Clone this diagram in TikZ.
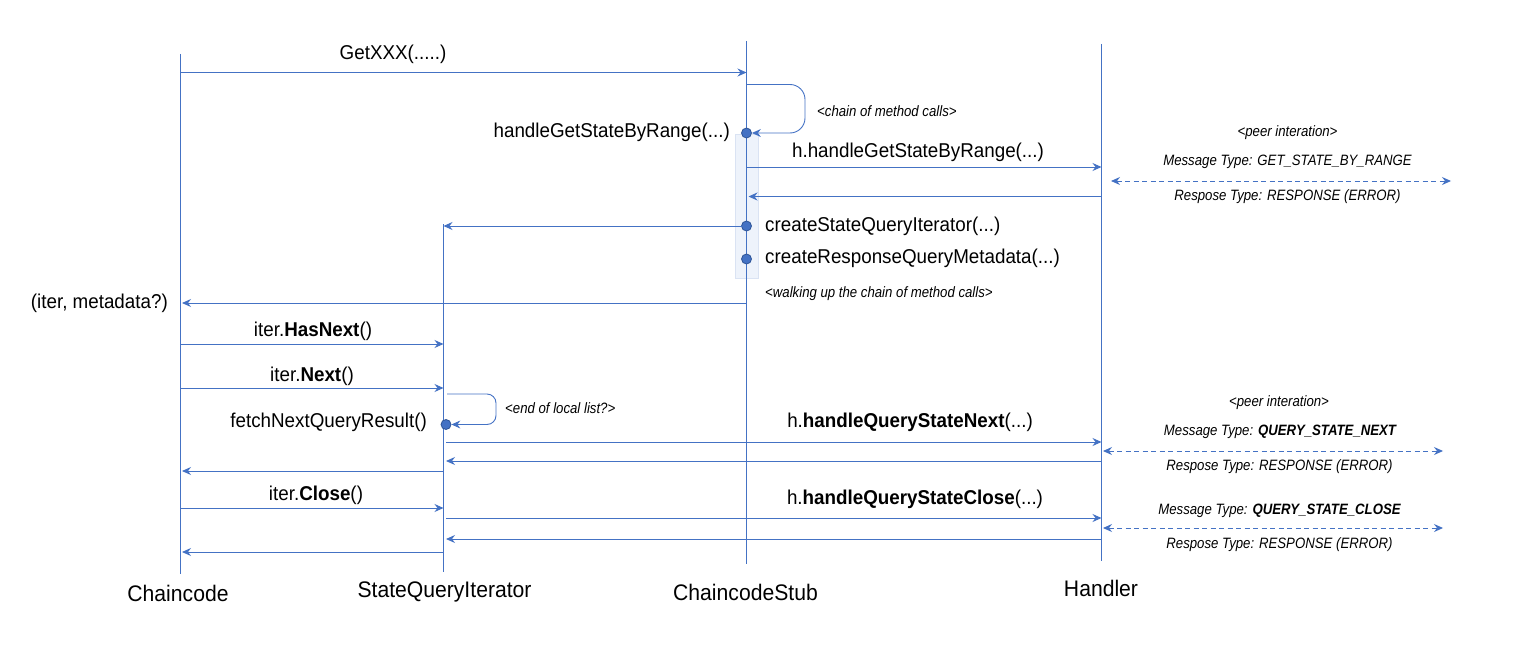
\documentclass[tikz,border=0pt]{standalone}
\usepackage{fontspec}
\setmainfont[FakeStretch=0.94]{Liberation Sans}
\newfontfamily\notefont[FakeStretch=0.88]{Liberation Sans}
\usetikzlibrary{arrows.meta}
\definecolor{lblue}{HTML}{4472C4}
\definecolor{dblue}{HTML}{2F5597}
\definecolor{actfill}{HTML}{EEF3FB}
\definecolor{actdraw}{HTML}{DAE3F3}
\tikzset{
  lifeline/.style={draw=lblue, line width=1.1pt},
  msg/.style={draw=lblue, line width=1pt, -{Stealth[length=9pt,width=8pt,inset=3pt]}},
  loopline/.style={draw=lblue, line width=0.9pt, -{Stealth[length=9pt,width=8pt,inset=3pt]}},
  peer/.style={draw=lblue, line width=1pt, dash pattern=on 5pt off 3.5pt,
    {Stealth[length=9pt,width=8pt,inset=3pt]}-{Stealth[length=9pt,width=8pt,inset=3pt]}},
  dot/.style={circle, fill=lblue, draw=dblue, line width=0.8pt, minimum size=10pt, inner sep=0pt},
  title/.style={inner sep=0pt, font=\fontsize{22.5}{27}\selectfont},
  lbl/.style={inner sep=0pt, font=\fontsize{20}{24}\selectfont},
  note/.style={inner sep=0pt, font=\notefont\itshape\fontsize{15}{18}\selectfont},
}
\begin{document}
\begin{tikzpicture}[x=1pt,y=-1pt]
\useasboundingbox (0,0) rectangle (1522,669);
% lifeline positions
\coordinate (CC) at (180.5,0);
\coordinate (IT) at (443.5,0);
\coordinate (ST) at (746.5,0);
\coordinate (HD) at (1101.5,0);
% activation box
\node[fill=actfill, draw=actdraw, line width=0.8pt, minimum width=23pt, minimum height=144pt, inner sep=0pt] (act) at (747,206) {};
% lifelines
\draw[lifeline] (CC |- 0,54) coordinate (cctop) -- (CC |- 0,574) coordinate (ccbot);
\draw[lifeline] (IT |- 0,224) coordinate (ittop) -- (IT |- 0,572) coordinate (itbot);
\draw[lifeline] (ST |- 0,41) coordinate (sttop) -- (ST |- 0,564) coordinate (stbot);
\draw[lifeline] (HD |- 0,44) coordinate (hdtop) -- (HD |- 0,561) coordinate (hdbot);
% titles
\node[title] (tcc) at (178,593) {Chaincode};
\node[title] (tit) at (444.5,592) {StateQueryIterator};
\node[title] (tst) at (745.5,592) {ChaincodeStub};
\node[title] (thd) at (1101,588) {Handler};
% GetXXX
\draw[msg] (CC |- 0,72.5) -- (ST |- 0,72.5);
\node[lbl] (lget) at (393,54) {GetXXX(.....)};
% self loop on stub
\node[dot] (d1) at (746.5,133) {};
\draw[loopline, rounded corners=15pt] (ST |- 0,84.5) -- (805,84.5) -- (805,133) -- (d1.east);
\node[note, anchor=west] (nchain) at (817,111) {<chain of method calls>};
\node[lbl, anchor=east] (lhgsr) at (730,132) {handleGetStateByRange(...)};
% stub <-> handler
\draw[msg] (ST |- 0,167) -- (HD |- 0,167);
\node[lbl] (lhh) at (918,152) {h.handleGetStateByRange(...)};
\draw[msg] (HD |- 0,196.5) -- (748.5,196.5);
% create iterator
\node[dot] (d2) at (746.5,226) {};
\draw[msg] (d2.center) -- (IT |- 0,226);
\node[lbl, anchor=west] (lcsqi) at (765,226) {createStateQueryIterator(...)};
\node[dot] (d3) at (746.5,259) {};
\node[lbl, anchor=west] (lcrqm) at (765,258) {createResponseQueryMetadata(...)};
\node[note, anchor=west] (nwalk) at (765,294) {<walking up the chain of method calls>};
% return to chaincode
\draw[msg] (ST |- 0,303) -- (182,303);
\node[lbl, anchor=east] (lret) at (168,303) {(iter, metadata?)};
% HasNext / Next
\draw[msg] (CC |- 0,344) -- (IT |- 0,344);
\node[lbl] (lhas) at (313,331) {iter.\textbf{HasNext}()};
\draw[msg] (CC |- 0,388) -- (IT |- 0,388);
\node[lbl] (lnext) at (312,376) {iter.\textbf{Next}()};
% self loop on iterator
\node[dot] (d4) at (446,424.5) {};
\draw[loopline, rounded corners=9pt] (447,394) -- (496,394) -- (496,424.5) -- (d4.east);
\node[note, anchor=west] (nend) at (505,408) {<end of local list?>};
\node[lbl, anchor=east] (lfetch) at (427,422) {fetchNextQueryResult()};
% next query
\draw[msg] (446,442) -- (HD |- 0,442);
\node[lbl] (lqsn) at (910,422) {h.\textbf{handleQueryStateNext}(...)};
\draw[msg] (HD |- 0,461) -- (446,461);
\draw[msg] (IT |- 0,471) -- (182,471);
% close
\draw[msg] (CC |- 0,508) -- (IT |- 0,508);
\node[lbl] (lclose) at (316,495) {iter.\textbf{Close}()};
\draw[msg] (446,518) -- (HD |- 0,518);
\node[lbl] (lqsc) at (915,499) {h.\textbf{handleQueryStateClose}(...)};
\draw[msg] (HD |- 0,539) -- (446,539);
\draw[msg] (IT |- 0,552) -- (182,552);
% peer interaction notes
\node[note] (np1) at (1287.5,133) {<peer interation>};
\node[note] (nm1) at (1287.5,162) {Message Type: GET\_STATE\_BY\_RANGE};
\coordinate (pa1) at (1111,181);
\coordinate (pb1) at (1451,181);
\draw[peer] (pa1) -- (pb1);
\node[note] (nr1) at (1287.5,197) {Respose Type: RESPONSE (ERROR)};
\node[note] (np2) at (1279,403) {<peer interation>};
\node[note] (nm2) at (1280,432) {Message Type: \textbf{QUERY\_STATE\_NEXT}};
\coordinate (pa2) at (1103,451);
\coordinate (pb2) at (1443,451);
\draw[peer] (pa2) -- (pb2);
\node[note] (nr2) at (1279.5,467) {Respose Type: RESPONSE (ERROR)};
\node[note] (nm3) at (1279.5,511) {Message Type: \textbf{QUERY\_STATE\_CLOSE}};
\coordinate (pa3) at (1103,528);
\coordinate (pb3) at (1443,528);
\draw[peer] (pa3) -- (pb3);
\node[note] (nr3) at (1279.5,545) {Respose Type: RESPONSE (ERROR)};
\end{tikzpicture}
\end{document}
